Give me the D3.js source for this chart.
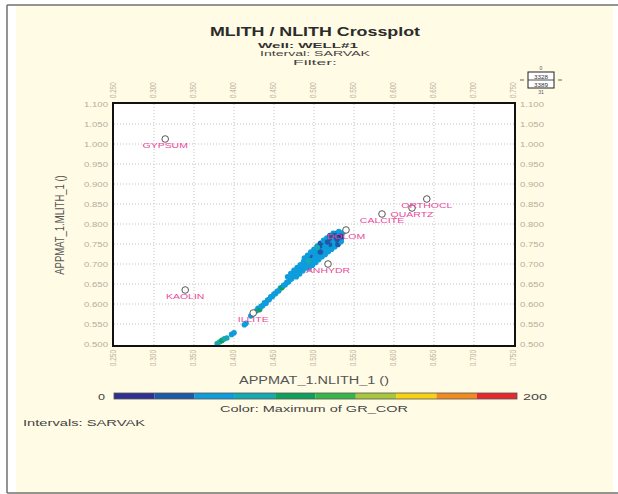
<!DOCTYPE html>
<html>
<head>
<meta charset="utf-8">
<script src="https://d3js.org/d3.v7.min.js"></script>
<style>
  body{ margin:0; background:#fff; }
  #vis{ display:block; font-family:"Liberation Sans", Arial, sans-serif; }
</style>
</head>
<body>
<svg id="vis"></svg>
<script>
  var width = 618,
    height = 494,
    cream = "#fffbe4",
    tickGrey = "#b8ad9c",
    pink = "#e8479a";

  // mineral reference points (NLITH, MLITH)
  var minerals = ["GYPSUM", "KAOLIN", "ILLITE", "DOLOM", "ANHYDR", "CALCITE", "QUARTZ", "ORTHOCL"];
  var minNlith = [0.314, 0.339, 0.424, 0.540, 0.5175, 0.585, 0.6225, 0.641];
  var minMlith = [1.0125, 0.635, 0.5775, 0.785, 0.700, 0.825, 0.840, 0.8625];

  // axis ticks
  var xTicks = [0.25, 0.30, 0.35, 0.40, 0.45, 0.50, 0.55, 0.60, 0.65, 0.70, 0.75];
  var yTicks = [0.50, 0.55, 0.60, 0.65, 0.70, 0.75, 0.80, 0.85, 0.90, 0.95, 1.00, 1.05, 1.10];

  // colour legend (GR_COR)
  var grDomain = [0, 200];
  var grColors = ["#2e3192", "#1c5aa8", "#0e9cdc", "#15a9b2", "#10a05c", "#3ab54a", "#a7c83c", "#f7d214", "#f28b1f", "#e42a2b"];

  // samples: [NLITH, MLITH, max GR_COR]
  var samples = [
    [0.379, 0.501, 75], [0.382, 0.505, 68], [0.385, 0.509, 85], [0.388, 0.513, 62], [0.391, 0.515, 72],
    [0.397, 0.524, 50], [0.400, 0.528, 47], [0.413, 0.548, 52], [0.415, 0.552, 46],
    [0.421, 0.570, 55], [0.424, 0.575, 49],
    [0.428, 0.583, 52], [0.430, 0.589, 48], [0.432, 0.586, 90], [0.434, 0.594, 55], [0.436, 0.596, 50],
    [0.438, 0.603, 57], [0.440, 0.602, 46], [0.442, 0.610, 53], [0.444, 0.611, 49], [0.446, 0.618, 58],
    [0.448, 0.619, 44], [0.450, 0.625, 52], [0.452, 0.626, 56], [0.454, 0.632, 47], [0.456, 0.633, 51],
    [0.458, 0.640, 55], [0.460, 0.641, 88], [0.462, 0.647, 50], [0.464, 0.648, 45], [0.466, 0.654, 54],
    [0.468, 0.655, 48], [0.470, 0.661, 52], [0.472, 0.663, 57], [0.474, 0.669, 43], [0.476, 0.672, 50],
    [0.478, 0.677, 55], [0.480, 0.680, 49], [0.482, 0.686, 53], [0.484, 0.689, 46], [0.486, 0.694, 51],
    [0.488, 0.698, 56], [0.490, 0.703, 47], [0.492, 0.706, 52], [0.494, 0.711, 45], [0.496, 0.714, 54],
    [0.498, 0.719, 50], [0.500, 0.721, 48], [0.502, 0.726, 55], [0.504, 0.729, 46], [0.506, 0.733, 52],
    [0.508, 0.737, 57], [0.510, 0.740, 49], [0.512, 0.743, 53], [0.514, 0.746, 45], [0.516, 0.749, 51],
    [0.518, 0.752, 56], [0.520, 0.755, 47], [0.522, 0.758, 52], [0.524, 0.761, 44], [0.526, 0.764, 50],
    [0.528, 0.767, 38], [0.530, 0.770, 48], [0.532, 0.772, 30], [0.534, 0.775, 52], [0.536, 0.778, 45],
    [0.467, 0.668, 50], [0.471, 0.676, 54], [0.475, 0.684, 47], [0.479, 0.691, 52], [0.483, 0.698, 45],
    [0.487, 0.706, 55], [0.491, 0.714, 49], [0.495, 0.722, 36], [0.499, 0.729, 52], [0.503, 0.737, 46],
    [0.507, 0.745, 28], [0.511, 0.752, 53], [0.515, 0.758, 47], [0.519, 0.764, 32], [0.523, 0.770, 50],
    [0.527, 0.776, 25], [0.531, 0.781, 44],
    [0.478, 0.668, 53], [0.482, 0.675, 48], [0.486, 0.683, 56], [0.490, 0.690, 45], [0.494, 0.698, 51],
    [0.498, 0.706, 47], [0.502, 0.713, 54], [0.506, 0.720, 49], [0.510, 0.727, 72], [0.514, 0.734, 46],
    [0.518, 0.740, 52], [0.522, 0.746, 34], [0.526, 0.752, 50], [0.530, 0.758, 45], [0.534, 0.764, 29],
    [0.488, 0.715, 50], [0.492, 0.722, 47], [0.496, 0.730, 53], [0.500, 0.737, 44], [0.504, 0.745, 51],
    [0.508, 0.752, 32], [0.512, 0.759, 48], [0.516, 0.765, 55], [0.520, 0.771, 30], [0.524, 0.777, 46],
    [0.494, 0.690, 52], [0.498, 0.697, 46], [0.502, 0.704, 55], [0.506, 0.711, 48], [0.510, 0.718, 50],
    [0.514, 0.724, 44], [0.518, 0.731, 53], [0.522, 0.737, 47], [0.526, 0.743, 51], [0.530, 0.749, 36],
    [0.534, 0.756, 48],
    [0.533, 0.769, 12], [0.529, 0.762, 30], [0.525, 0.771, 28], [0.517, 0.755, 26], [0.508, 0.730, 24],
    [0.504, 0.741, 68], [0.493, 0.708, 65]
  ];

// scales
  var xscale = d3.scaleLinear().domain([0.25, 0.75]).range([114, 514]);
  var yscale = d3.scaleLinear().domain([0.5, 1.1]).range([344, 104]);
  var color = d3.scaleQuantize().domain(grDomain).range(grColors);
  var barScale = d3.scaleLinear().domain(grDomain).range([114, 517]);

  var svg = d3.select("#vis")
    .attr("width", width)
    .attr("height", height);

  // stretched text helper (the chart's lettering is wide)
  function txt(x, y, s, size, o) {
    o = o || {};
    var t = svg.append("text")
      .attr("transform", "translate(" + x + "," + y + ")" + (o.sx ? " scale(" + o.sx + ",1)" : "") + (o.rot ? " rotate(" + o.rot + ")" : ""))
      .attr("text-anchor", o.anchor || "middle")
      .style("font-size", size + "px")
      .style("font-weight", o.bold ? "bold" : "normal")
      .style("fill", o.fill || "#333")
      .text(s);
    if (o.len) t.attr("textLength", o.len).attr("lengthAdjust", "spacingAndGlyphs");
    return t;
  }

// frame -------------------------------------------------
  svg.append("rect").attr("x", 16).attr("y", 6).attr("width", 597).attr("height", 487).style("fill", cream);
  svg.append("line").attr("x1", 7).attr("y1", 5).attr("x2", 618).attr("y2", 5).style("stroke", "#707070").style("stroke-width", 1.5);
  svg.append("line").attr("x1", 7).attr("y1", 5).attr("x2", 7).attr("y2", 493).style("stroke", "#707070").style("stroke-width", 1.5);
  svg.append("line").attr("x1", 7).attr("y1", 493).attr("x2", 618).attr("y2", 493).style("stroke", "#707070").style("stroke-width", 1.5);

// titles -------------------------------------------------
  txt(315, 36, "MLITH / NLITH Crossplot", 12, {bold: true, len: 210, fill: "#2b2b2b"});
  txt(308, 47.5, "Well: WELL#1", 8, {bold: true, len: 100, fill: "#333"});
  txt(315, 56, "Interval: SARVAK", 8, {len: 110, fill: "#444"});
  txt(315, 64.5, "Filter:", 8, {len: 44, fill: "#444"});

// plot area -------------------------------------------------
  svg.append("rect").attr("x", 113).attr("y", 103).attr("width", 402).attr("height", 243).style("fill", "#fff");

  svg.selectAll(".vgrid").data(xTicks.slice(1, -1)).enter().append("line")
    .attr("class", "vgrid")
    .attr("x1", d => xscale(d)).attr("x2", d => xscale(d))
    .attr("y1", 104).attr("y2", 345)
    .style("stroke", "#c4c4c4").style("stroke-dasharray", "1,2");
  svg.selectAll(".hgrid").data(yTicks.slice(1, -1)).enter().append("line")
    .attr("class", "hgrid")
    .attr("x1", 114).attr("x2", 514)
    .attr("y1", d => yscale(d)).attr("y2", d => yscale(d))
    .style("stroke", "#c4c4c4").style("stroke-dasharray", "1,2");

  // tick labels
  xTicks.forEach(function(d) {
    txt(xscale(d) + 2, 98, d3.format(".3f")(d), 6.3, {anchor: "start", rot: -90, sx: 1.4, fill: tickGrey});
    txt(xscale(d) + 2, 350, d3.format(".3f")(d), 6.5, {anchor: "end", rot: -90, sx: 1.4, fill: tickGrey});
  });
  yTicks.forEach(function(d) {
    txt(108, yscale(d) + 2.5, d3.format(".3f")(d), 7, {anchor: "end", len: 24, fill: tickGrey});
    txt(520, yscale(d) + 2.5, d3.format(".3f")(d), 7, {anchor: "start", len: 24, fill: tickGrey});
  });

  // axis titles
  txt(64, 225, "APPMAT_1.MLITH_1 ()", 9.5, {rot: -90, sx: 1.4, fill: "#555"});
  txt(314, 384, "APPMAT_1.NLITH_1 ()", 10, {len: 150, fill: "#555"});

// samples -------------------------------------------------
  svg.selectAll(".sample").data(samples).enter().append("circle")
    .attr("class", "sample")
    .attr("cx", d => xscale(d[0]))
    .attr("cy", d => yscale(d[1]))
    .attr("r", 2.8)
    .style("fill", d => color(d[2]));

// minerals -------------------------------------------------
  minerals.forEach(function(m, i) {
    svg.append("circle")
      .attr("cx", xscale(minNlith[i])).attr("cy", yscale(minMlith[i])).attr("r", 3.3)
      .style("fill", "#fff").style("stroke", "#555").style("stroke-width", 1);
    txt(xscale(minNlith[i]), yscale(minMlith[i]) + 8.5, m, 7, {sx: 1.5, fill: pink});
  });

  // plot border
  svg.append("rect").attr("x", 113).attr("y", 103).attr("width", 402).attr("height", 243)
    .style("fill", "none").style("stroke", "#111").style("stroke-width", 2);

// colour bar -------------------------------------------------
  var bins = d3.range(grColors.length);
  svg.selectAll(".bin").data(bins).enter().append("rect")
    .attr("class", "bin")
    .attr("x", d => barScale(grDomain[1] * d / grColors.length))
    .attr("y", 393)
    .attr("width", (barScale(grDomain[1]) - barScale(0)) / grColors.length)
    .attr("height", 6)
    .style("fill", d => grColors[d]);
  svg.append("rect").attr("x", barScale(0)).attr("y", 393).attr("width", barScale(grDomain[1]) - barScale(0)).attr("height", 6)
    .style("fill", "none").style("stroke", "#555").style("stroke-width", 0.8);
  txt(105, 400, "0", 9, {anchor: "end", sx: 1.4, fill: "#444"});
  txt(523, 400, "200", 9, {anchor: "start", len: 24, fill: "#444"});
  txt(314, 412, "Color: Maximum of GR_COR", 9, {len: 188, fill: "#444"});

  txt(23, 426, "Intervals: SARVAK", 9, {anchor: "start", len: 122, fill: "#444"});

// little legend box top right -------------------------------------------------
  svg.append("rect").attr("x", 528).attr("y", 72).attr("width", 26).attr("height", 16)
    .style("fill", "#fff").style("stroke", "#222").style("stroke-width", 1);
  svg.append("line").attr("x1", 528).attr("x2", 554).attr("y1", 80).attr("y2", 80).style("stroke", "#222").style("stroke-width", 0.8);
  svg.append("line").attr("x1", 520).attr("x2", 524).attr("y1", 80).attr("y2", 80).style("stroke", "#666");
  svg.append("line").attr("x1", 558).attr("x2", 562).attr("y1", 80).attr("y2", 80).style("stroke", "#666");
  txt(541, 78.5, "3328", 5, {len: 14, fill: "#333"});
  txt(541, 86.5, "3389", 5, {len: 14, fill: "#333"});
  txt(541, 70, "0", 5, {fill: "#555"});
  txt(541, 94, "31", 5, {fill: "#555"});
</script>
</body>
</html>
